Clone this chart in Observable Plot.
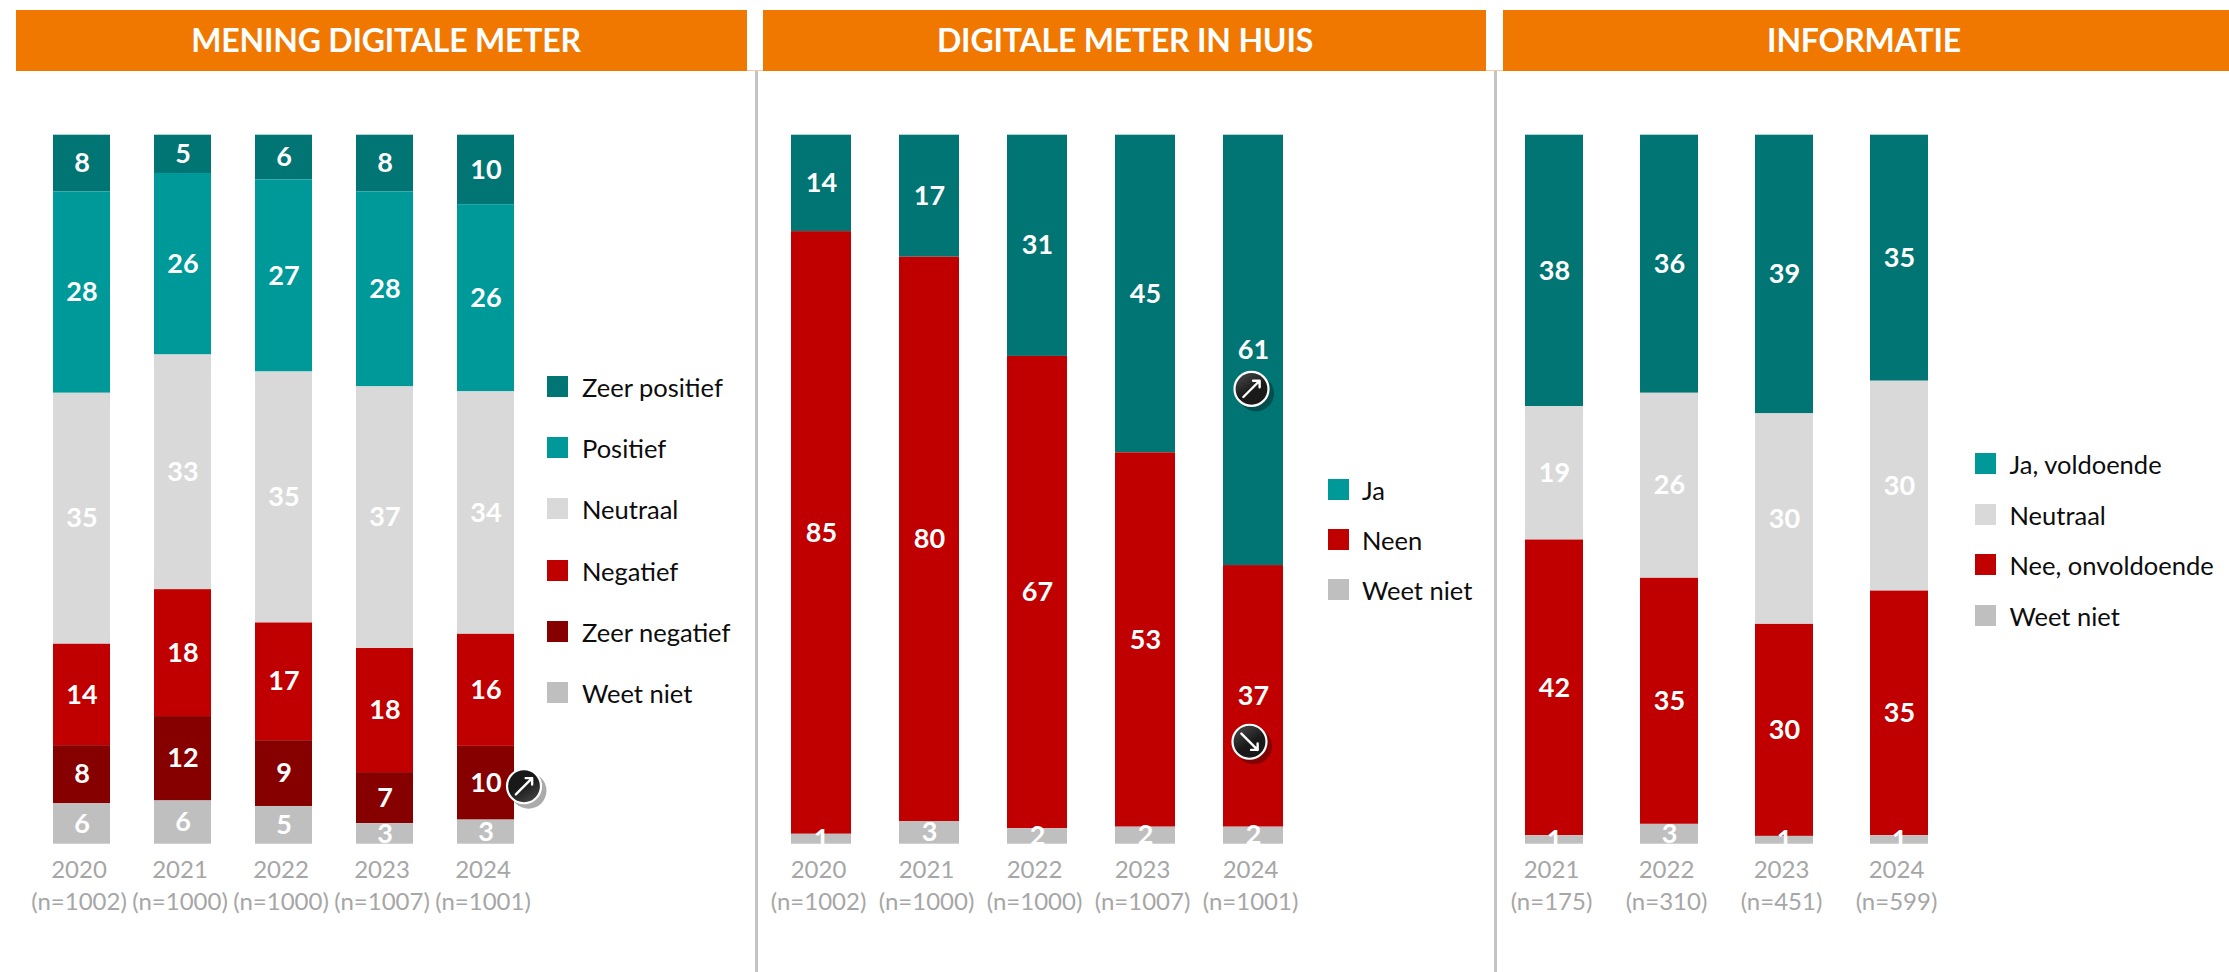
<!DOCTYPE html>
<html>
<head>
<meta charset="utf-8">
<script src="https://cdn.jsdelivr.net/npm/d3@7"></script>
<script src="https://cdn.jsdelivr.net/npm/@observablehq/plot@0.6"></script>
<style>
  html, body { margin: 0; padding: 0; background: #fff; }
  #page { position: relative; width: 2229px; height: 972px; overflow: hidden; font-family: Lato, sans-serif; }
  #page svg { position: absolute; top: 0; overflow: visible; }
  .banner { position: absolute; top: 10px; height: 61px; background: #f07800; }
  .banner span { position: absolute; top: 0; line-height: 60px; color: #fff; font-weight: 700; font-size: 32px; transform: translateX(-50%); white-space: nowrap; letter-spacing: -0.2px; }
  .sep { position: absolute; top: 71px; bottom: 0; width: 2.5px; background: #c4c4c4; }
  .swatch { position: absolute; width: 21px; height: 21px; }
  .legend { position: absolute; font-size: 25.5px; line-height: 21px; color: #0d0d0d; white-space: nowrap; }
</style>
</head>
<body>
<div id="page"></div>
<script>
const DARK_TEAL = "#007573", TEAL = "#009999", NEUTRAL = "#d9d9d9", RED = "#c00000", DARK_RED = "#860000", GREY = "#bfbfbf";

// MENING DIGITALE METER
const meningYears = ["2020", "2021", "2022", "2023", "2024"];
const meningN = [1002, 1000, 1000, 1007, 1001];
const meningSeries = ["Zeer positief", "Positief", "Neutraal", "Negatief", "Zeer negatief", "Weet niet"];
const meningZeerPositief = [8.0, 5.4, 6.3, 8.0, 9.8];
const meningPositief = [28.4, 25.6, 27.1, 27.5, 26.4];
const meningNeutraal = [35.4, 33.1, 35.4, 36.9, 34.2];
const meningNegatief = [14.3, 17.9, 16.6, 17.5, 15.8];
const meningZeerNegatief = [8.2, 11.9, 9.3, 7.2, 10.4];
const meningWeetNiet = [5.7, 6.1, 5.3, 2.9, 3.4];

// DIGITALE METER IN HUIS
const huisYears = ["2020", "2021", "2022", "2023", "2024"];
const huisN = [1002, 1000, 1000, 1007, 1001];
const huisSeries = ["Ja", "Neen", "Weet niet"];
const huisJa = [13.6, 17.2, 31.2, 44.8, 60.7];
const huisNeen = [85.0, 79.6, 66.6, 52.8, 36.9];
const huisWeetNiet = [1.4, 3.2, 2.2, 2.4, 2.4];

// INFORMATIE
const infoYears = ["2021", "2022", "2023", "2024"];
const infoN = [175, 310, 451, 599];
const infoSeries = ["Ja, voldoende", "Neutraal", "Nee, onvoldoende", "Weet niet"];
const infoJa = [38.3, 36.4, 39.3, 34.7];
const infoNeutraal = [18.8, 26.1, 29.7, 29.6];
const infoNee = [41.7, 34.7, 29.9, 34.5];
const infoWeetNiet = [1.2, 2.8, 1.1, 1.2];

const panels = [
  {
    title: "MENING DIGITALE METER", bannerLeft: 16, bannerRight: 747, titleCenter: 386,
    left: 0, width: 755, firstCenter: 81, step: 101.25, barWidth: 57,
    years: meningYears, n: meningN, series: meningSeries,
    values: [meningZeerPositief, meningPositief, meningNeutraal, meningNegatief, meningZeerNegatief, meningWeetNiet],
    colors: [DARK_TEAL, TEAL, NEUTRAL, RED, DARK_RED, GREY],
    legendColors: [DARK_TEAL, TEAL, NEUTRAL, RED, DARK_RED, GREY],
    swatchX: 547, textX: 582, legendTop: 376, legendStep: 61.2,
    icons: [{year: "2024", series: "Zeer negatief", dir: "up", dark: "top", dx: 38, dy: 3}]
  },
  {
    title: "DIGITALE METER IN HUIS", bannerLeft: 763, bannerRight: 1486, titleCenter: 1125,
    left: 756, width: 738, firstCenter: 820, step: 108.5, barWidth: 60,
    years: huisYears, n: huisN, series: huisSeries,
    values: [huisJa, huisNeen, huisWeetNiet],
    colors: [DARK_TEAL, RED, GREY],
    legendColors: [TEAL, RED, GREY],
    swatchX: 1327.5, textX: 1362, legendTop: 479, legendStep: 50,
    icons: [
      {year: "2024", series: "Ja", dir: "up", dark: "bottom", dx: -2, dy: 38.5},
      {year: "2024", series: "Neen", dir: "down", dark: "bottom", dx: -4, dy: 45.4}
    ]
  },
  {
    title: "INFORMATIE", bannerLeft: 1503, bannerRight: 2229, titleCenter: 1864,
    left: 1495, width: 734, firstCenter: 1554, step: 115.2, barWidth: 58,
    years: infoYears, n: infoN, series: infoSeries,
    values: [infoJa, infoNeutraal, infoNee, infoWeetNiet],
    colors: [DARK_TEAL, NEUTRAL, RED, GREY],
    legendColors: [TEAL, NEUTRAL, RED, GREY],
    swatchX: 1975, textX: 2009.5, legendTop: 453, legendStep: 50.7,
    icons: []
  }
];

const page = document.getElementById("page");
const TOP = 134.7, BOTTOM = 843.7, HEIGHT = 972;

function addDiv(cls, style, html) {
  const el = document.createElement("div");
  el.className = cls;
  Object.assign(el.style, style);
  if (html) el.innerHTML = html;
  page.appendChild(el);
  return el;
}

addDiv("thin", {position: "absolute", left: "16px", right: "0", top: "70px", height: "1px", background: "#f8c79a"});

panels.forEach((p) => {
  // rows with cumulative top-down stacking so that the first series sits at the top
  const rows = [];
  p.years.forEach((year, i) => {
    let cum = 100;
    p.series.forEach((s, j) => {
      const v = p.values[j][i];
      rows.push({year, series: s, value: v, label: Math.round(v), y1: cum - v, y2: cum, mid: cum - v / 2});
      cum -= v;
    });
  });
  const icons = p.icons.map((ic) => {
    const r = rows.find((d) => d.year === ic.year && d.series === ic.series);
    return {...ic, mid: r.mid};
  });
  const nByYear = new Map(p.years.map((y, i) => [y, p.n[i]]));
  const pad = 1 - p.barWidth / p.step;
  const rangeStart = p.firstCenter - p.step / 2;
  const rangeEnd = rangeStart + p.step * p.years.length;

  const gradients = () => {
    const ns = "http://www.w3.org/2000/svg";
    const defs = document.createElementNS(ns, "defs");
    defs.innerHTML = `
      <linearGradient id="icon-top-${p.left}" x1="0.2" y1="0" x2="0.8" y2="1"><stop offset="0.45" stop-color="#191919"/><stop offset="1" stop-color="#474747"/></linearGradient>
      <linearGradient id="icon-bottom-${p.left}" x1="0.2" y1="0" x2="0.8" y2="1"><stop offset="0" stop-color="#484848"/><stop offset="0.55" stop-color="#191919"/></linearGradient>`;
    return defs;
  };

  const marks = [
    gradients,
    Plot.barY(rows, {x: "year", y1: "y1", y2: "y2", fill: "series"}),
    Plot.text(rows, {x: "year", y: "mid", text: "label", fill: "#fff", fontSize: 27, fontWeight: 700, lineAnchor: "middle"}),
    Plot.axisX({
      tickSize: 0, tickPadding: 11, label: null, fontSize: 24, lineHeight: 1.33, fill: "#a6a6a6", dx: -3,
      tickFormat: (d) => `${d}\n(n=${nByYear.get(d)})`
    })
  ];
  icons.forEach((ic) => {
    marks.push(
      Plot.dot([ic], {x: "year", y: "mid", r: 18, fill: "#000", fillOpacity: 0.33, dx: ic.dx + 4.5, dy: ic.dy + 4.5}),
      Plot.dot([ic], {x: "year", y: "mid", r: 17, fill: `url(#icon-${ic.dark}-${p.left})`, stroke: "#fff", strokeWidth: 2.2, dx: ic.dx, dy: ic.dy}),
      Plot.vector([ic], {x: "year", y: "mid", length: 23, rotate: ic.dir === "up" ? 45 : 135, anchor: "middle", stroke: "#fff", strokeWidth: 2.4, dx: ic.dx, dy: ic.dy})
    );
  });

  const svg = Plot.plot({
    width: p.width,
    height: HEIGHT,
    marginTop: TOP,
    marginBottom: HEIGHT - BOTTOM,
    marginLeft: rangeStart - p.left,
    marginRight: p.left + p.width - rangeEnd,
    style: {background: "transparent", fontFamily: "Lato, sans-serif"},
    x: {domain: p.years, paddingInner: pad, paddingOuter: pad / 2, align: 0.5},
    y: {domain: [0, 100], axis: null},
    color: {domain: p.series, range: p.colors},
    marks
  });
  svg.style.left = p.left + "px";
  page.appendChild(svg);

  const banner = addDiv("banner", {left: p.bannerLeft + "px", width: (p.bannerRight - p.bannerLeft) + "px"});
  banner.innerHTML = `<span style="left:${p.titleCenter - p.bannerLeft}px">${p.title}</span>`;

  p.series.forEach((s, j) => {
    const y = p.legendTop + j * p.legendStep;
    addDiv("swatch", {left: p.swatchX + "px", top: y + "px", background: p.legendColors[j]});
    addDiv("legend", {left: p.textX + "px", top: (y + 1) + "px"}, s);
  });
});

[755, 1494].forEach((x) => addDiv("sep", {left: x + "px"}));
</script>
</body>
</html>
